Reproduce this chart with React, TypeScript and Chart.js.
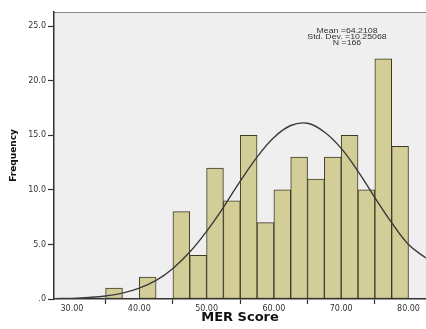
import React, { useEffect, useRef } from 'react';
import { Chart, registerables } from 'chart.js';

Chart.register(...registerables);

// Histogram bins (start of each bin) and counts
const binStarts = [35, 40, 45, 47.5, 50, 52.5, 55, 57.5, 60, 62.5, 65, 67.5, 70, 72.5, 75, 77.5];
const binWidth = 2.5;
const frequencies = [1, 2, 8, 4, 12, 9, 15, 7, 10, 13, 11, 13, 15, 10, 22, 14];

// Normal curve
const curveX = [27, 27.5, 30, 32.5, 35, 37.5, 40, 42.5, 45, 47.5, 50, 52.5, 55, 57.5, 60, 62.5, 65, 67.5, 70, 72.5, 75, 77.5, 80, 82.5, 83];
const curveY = [0.02, 0.03, 0.06, 0.14, 0.28, 0.54, 0.99, 1.7, 2.8, 4.3, 6.2, 8.4, 10.8, 13.0, 14.8, 15.9, 16.1, 15.3, 13.8, 11.7, 9.3, 7.0, 5.0, 3.8, 3.6];

const xTicks = [30, 40, 50, 60, 70, 80];
const xTickLabels = ['30.00', '40.00', '50.00', '60.00', '70.00', '80.00'];
const yTicks = [0, 5, 10, 15, 20, 25];
const yTickLabels = ['.0', '5.0', '10.0', '15.0', '20.0', '25.0'];

const statLines = ['Mean =64.2108', 'Std. Dev. =10.25068', 'N =166'];

const xTitle = 'MER Score';
const yTitle = 'Frequency';

const plotPlugin = {
  id: 'plotDecor',
  beforeDraw(chart: any) {
    const { ctx, chartArea } = chart;
    ctx.save();
    ctx.fillStyle = '#efefef';
    ctx.fillRect(chartArea.left, chartArea.top, chartArea.right - chartArea.left, chartArea.bottom - chartArea.top);
    ctx.strokeStyle = '#8a8a8a';
    ctx.lineWidth = 1;
    ctx.beginPath();
    ctx.moveTo(chartArea.left, chartArea.top + 0.5);
    ctx.lineTo(chartArea.right, chartArea.top + 0.5);
    ctx.stroke();
    ctx.restore();
  },
  afterDraw(chart: any) {
    const { ctx } = chart;
    ctx.save();
    ctx.fillStyle = '#333333';
    ctx.font = '7px "Liberation Sans", Arial, sans-serif';
    ctx.textAlign = 'center';
    ctx.textBaseline = 'alphabetic';
    const cx = 347;
    const baselines = [33.2, 38.9, 44.6];
    statLines.forEach((t, i) => {
      ctx.save();
      ctx.translate(cx, baselines[i]);
      ctx.scale(1.25, 1);
      ctx.fillText(t, 0, 0);
      ctx.restore();
    });
    ctx.restore();
  },
};

export default function App() {
  const ref = useRef<HTMLCanvasElement | null>(null);

  useEffect(() => {
    if (!ref.current) return;
    const barData = binStarts.map((s, i) => ({ x: s + binWidth / 2, y: frequencies[i] }));
    const lineData = curveX.map((x, i) => ({ x, y: curveY[i] }));
    const tickFont = { family: '"DejaVu Sans", sans-serif', size: 8 };
    const chart = new Chart(ref.current, {
      type: 'bar',
      data: {
        datasets: [
          {
            type: 'line',
            data: lineData,
            borderColor: '#3a3a3a',
            borderWidth: 1.4,
            pointRadius: 0,
            tension: 0.4,
            fill: false,
            order: 0,
          } as any,
          {
            type: 'bar',
            data: barData,
            backgroundColor: '#d3cd98',
            borderColor: '#3e3a24',
            borderWidth: 1,
            barPercentage: 1,
            categoryPercentage: 1,
            borderSkipped: false,
            order: 1,
          } as any,
        ],
      },
      options: {
        animation: false,
        responsive: false,
        maintainAspectRatio: false,
        layout: { padding: { top: 12, right: 0, left: 0, bottom: 0 } },
        plugins: { legend: { display: false }, tooltip: { enabled: false }, title: { display: false } },
        scales: {
          x: {
            type: 'linear',
            min: 27.33,
            max: 82.6,
            offset: false,
            afterBuildTicks: (scale: any) => {
              scale.ticks = xTicks.map((v) => ({ value: v }));
            },
            afterFit: (scale: any) => {
              scale.height = 30;
            },
            ticks: {
              autoSkip: false,
              maxRotation: 0,
              padding: 0,
              color: '#333333',
              font: tickFont,
              callback: (v: any) => {
                const i = xTicks.indexOf(Number(v));
                return i >= 0 ? xTickLabels[i] : '';
              },
            },
            grid: { display: true, drawOnChartArea: false, drawTicks: true, tickLength: 5, tickColor: '#333333', tickWidth: 1.2 },
            border: { display: true, color: '#333333', width: 1.5 },
            title: {
              display: true,
              text: xTitle,
              color: '#111111',
              font: { family: '"DejaVu Sans", sans-serif', size: 13, weight: 'bold' },
              padding: { top: 0, bottom: 4 },
            },
          },
          y: {
            type: 'linear',
            min: 0,
            max: 26.3,
            afterBuildTicks: (scale: any) => {
              scale.ticks = yTicks.map((v) => ({ value: v }));
            },
            afterFit: (scale: any) => {
              scale.width = 54;
            },
            ticks: {
              autoSkip: false,
              padding: 2,
              color: '#333333',
              font: tickFont,
              callback: (v: any) => {
                const i = yTicks.indexOf(Number(v));
                return i >= 0 ? yTickLabels[i] : '';
              },
            },
            grid: { display: true, drawOnChartArea: false, drawTicks: true, tickLength: 6, tickColor: '#333333', tickWidth: 1.2 },
            border: { display: true, color: '#333333', width: 1.5 },
            title: {
              display: true,
              text: yTitle,
              color: '#111111',
              font: { family: '"DejaVu Sans", sans-serif', size: 9, weight: 'bold' },
              padding: { top: 8, bottom: 0 },
            },
          },
        },
      } as any,
      plugins: [plotPlugin],
    });
    return () => chart.destroy();
  }, []);

  return (
    <div style={{ position: 'fixed', left: 0, top: 0, width: 426, height: 329, background: '#ffffff' }}>
      <canvas ref={ref} width={426} height={329} style={{ display: 'block', width: 426, height: 329 }} />
    </div>
  );
}
